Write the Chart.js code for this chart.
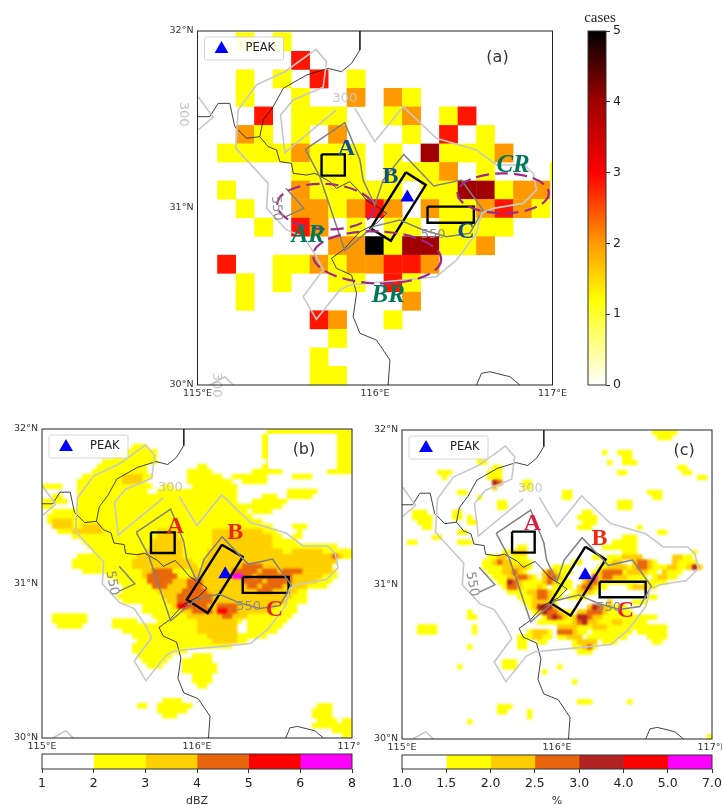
<!DOCTYPE html>
<html>
<head>
<meta charset="utf-8">
<script src="https://cdn.jsdelivr.net/npm/chart.js@4"></script>
<style>
  body { margin: 0; background: #fff; width: 722px; height: 805px; overflow: hidden; position: relative; }
  canvas { position: absolute; }
</style>
</head>
<body>
<canvas id="panelA" width="420" height="380" style="left:150px;top:20px"></canvas>
<canvas id="barA" width="60" height="390" style="left:580px;top:5px"></canvas>
<canvas id="panelB" width="360" height="333" style="left:0;top:420px"></canvas>
<canvas id="barB" width="360" height="60" style="left:0;top:748px"></canvas>
<canvas id="panelC" width="361" height="334" style="left:361px;top:420px"></canvas>
<canvas id="barC" width="361" height="60" style="left:361px;top:748px"></canvas>
<script>
// (a) cases per coarse grid box, one string per row from the north, '.' = none
const caseRows = [
  '.1.1...............',
  '....3..............',
  '.1.1.3.1...........',
  '.1..1..2.21........',
  '..3.111..12.13.....',
  '.21.1.2...1.3.1....',
  '11112111.1.41112...',
  '....1111.1112.1...1',
  '1...211111.1144122.',
  '.1..221232.2112321.',
  '..1.32.1.11.1111...',
  '......225144112....',
  '3..112122332.......',
  '.1.1..11.31........',
  '.1........2........',
  '.....32..1.........',
  '......1............',
  '.....1.............',
  '.....11............'
];
const caseColors = { 1: '#ffff00', 2: '#ff9900', 3: '#ff1500', 4: '#a00000', 5: '#000000' };

// (b) radar frequency, column runs per row from the north on a 62x62 grid
const dbzYellow = ['45-61', '44-45 59-61', '44-45 59-61', '18-20 44-45 59-61', '16-22 44-45 59-61', '14-22 44-45 59-61', '12-22 45 59-61', '11-20 31-32 44-45 59-61',
  '10-20 29-33 42-47 57-61', '8-21 29-35 38-44 50-53', '7-20 29-37 40-44', '0-3 7-21 24-25 30-38', '7-20 23-38 49-54', '2-3 7-20 21-38 44-46 49-53', '0-4 7-38 42-48', '0-1 7-40 41-47',
  '2-6 7-40 42-45', '1-41', '1-43', '2-45 50-52', '3-46 51', '6-47 50-51', '8-50', '9-58', '10-61', '7-61', '6-58', '6-57', '8-58', '13-58', '15-57', '16-56', '16-52', '15-52', '16-52',
  '20-50', '20-50', '2-8 22-49', '2-8 14-18 23-39 41-48', '3-7 14-38 41-47', '16-38 41-46', '18-39 40-44', '19-40', '18-37', '18-28', '19-25 30-33', '20-24 28-33', '21-23 28-34', '28-34',
  '30-33', '30-33', '31-32', '', '', '24-27', '19-20 23-29 55-57', '23-28 54-57', '24-26 54-57', '55-58 60-61', '54-57 58-61', '58-61', '60-61'];
const dbzGold = ['', '', '', '', '', '', '', '', '', '16-19', '16-19', '', '', '', '', '', '', '', '2-5', '2-5 8-11', '6-11 23-26 34-43', '23-26 34-45', '22-27 34-45', '22-27 34-45',
  '21-27 33-47 50-55', '19-27 33-59', '18-29 32-58', '18-30 32-57', '20-25 30-57', '20-26 30-55', '21-54', '22-52', '23-50', '24-49', '25-48', '26-46', '28-44', '29-40', '31-38', '31-38', '31-38', '33-38', '34-38'];
const dbzOrange = ['', '', '', '', '', '', '', '', '', '', '', '', '', '', '', '', '', '', '', '', '', '', '', '', '', '58', '', '40-43', '22-25 38-42 44-46 48-49 50-51', '21-26 38-41 43-49', '21-25 29-31 40-43 45-49',
  '22-24 29-31 41-42 44-47', '28-32 43-45', '27-33', '27-33', '28-32 35-38', '30-33 35-38', '36-37'];
const dbzRed = { 35: '27-28', 36: '35-36' };
const dbzMagenta = { 29: '38-39' };

// (c) occurrence percentage, same grid
const pctYellow = ['50-54', '51-53', '', '', '40 43-45', '15 44-45', '15-16 41 44-46', '18-19 55-56', '7-9 17-19 43-44 56-57', '8 17-19 59-60', '18-19 24-25', '24-25', '11-12 32-33 49-51',
  '15 32-33 50-51', '19-20 43-45', '19-20 43-45', '2-4 10-11 36-37', '2-5 10-11 13 35-38', '3-5 13-14 36-38', '4-5 35-37 47', '11-12 51-52', '6-7 44-46', '1-2 11-13 42-46', '23-24 40-46',
  '20-23 44-46 58', '17-18 22-24 38-39 41-47 56-57', '16-20 21-25 34-35 40-42 46-50 55-58', '16-25 30-33 39-42 44-52 54-56 57-59', '17-24 29-33 38-50 52-55', '18-26 28-32 36-48 50-54',
  '19-27 29-33 36-46 48-52', '20-28 30-33 36-40 45-50', '21-31 34-38', '23-31 33-36 49-50', '24-30 46-48', '25-30 38-44', '13 26-33 35-45', '13-14 28-35 37-50', '27-36 38-48',
  '3-6 14 31-40 41-47 48-52', '3-6 14 25-29 31-36 38-45 47-52', '23-24 25-29 31-35 37-44 49-52', '23-24 27-28 34-38 40-42 50-51', '13 23-24 34-38', '35-37', '', '20-22', '11 20-22 31', '28', '',
  '34', '', '', '', '35-37 45', '19-21', '19-20 25', '25', '13', '', '', '61'];
const pctGold = { 10: '18-19', 11: '18', 24: '22-24', 25: '19-20 44-47 54-55', 26: '18-21 42-43 46-49 54', 27: '20-24 41-44 46-49 53-54 57-59', 28: '20-23 28-30 39-43 45-48 52', 29: '21-25 28-31 38-44 51-52',
  30: '21-23 28-30 36-39', 31: '21-23 27 35-38 46-48', 32: '25-29 35-37', 33: '26-29', 34: '26-29 41', 35: '26-30 37-41', 36: '27-31 35-40', 37: '29-32 34-39', 38: '34-38 42-43', 39: '31-34 38-40',
  40: '26-28 31-34', 41: '26-27 33-35', 42: '35-38', 43: '36-37' };
const pctOrange = { 10: '18-19', 26: '19 47-48', 27: '47-48 58', 28: '22 29 40-43', 29: '23-24 29-30 40-41', 30: '21-22 29 37-38', 31: '21-22 36-37', 32: '27-28', 33: '27-28', 35: '27-29 38-39', 36: '28-30 37-39', 37: '29-31 35-37', 38: '35-36', 40: '31-33', 43: '37' };
const pctDark = { 10: '18', 27: '58', 30: '21', 35: '27-29 38', 36: '28', 37: '30 35-36', 38: '36' };
const pctMagenta = { 29: '38' };

const lonTicks = ['115°E', '116°E', '117°E'];
const latTicks = ['30°N', '31°N', '32°N'];
const dbzTicks = ['1', '2', '3', '4', '5', '6', '8'];
const dbzColors = ['#ffffff', '#ffff00', '#ffd000', '#e8650c', '#ff0000', '#ff00ff'];
const pctTicks = ['1.0', '1.5', '2.0', '2.5', '3.0', '4.0', '5.0', '7.0'];
const pctColors = ['#ffffff', '#ffff00', '#ffcc00', '#e8650c', '#b22222', '#ff0000', '#ff00ff'];
const caseTicks = [0, 1, 2, 3, 4, 5];
const caseStops = [[0, '#ffffff'], [1, '#ffff30'], [1.2, '#ffff00'], [2, '#ff9a00'], [3, '#ff0000'], [4, '#a00000'], [5, '#000000']];

// terrain contours and boundaries, lon/lat
const ctr300Main = [[115.886, 31.563], [115.999, 31.375], [116.159, 31.573], [116.346, 31.394], [116.572, 31.328], [116.685, 31.243], [116.844, 31.243], [116.891, 31.196], [116.91, 31.102], [116.835, 31.026],
  [116.666, 30.998], [116.6, 30.97], [116.572, 30.857], [116.459, 30.706], [116.346, 30.612], [116.159, 30.593], [115.858, 30.565], [115.802, 30.537], [115.67, 30.371], [115.595, 30.499], [115.708, 30.65],
  [115.67, 30.725], [115.595, 30.838], [115.501, 30.876], [115.389, 30.998], [115.398, 31.139], [115.216, 31.337], [115.229, 31.554], [115.332, 31.695], [115.492, 31.77], [115.667, 31.896], [115.727, 31.827],
  [115.708, 31.682], [115.539, 31.61], [115.468, 31.525], [115.492, 31.313], [115.577, 31.384], [115.783, 31.554]];
const ctr300Left = [[115.004, 31.629], [115.088, 31.512], [115.004, 31.441]];
const ctr300Bottom = [[115.069, 30], [115.154, 30.047], [115.201, 30]];
const ctr550Main = [[115.608, 31.331], [115.83, 31.482], [115.915, 31.271], [115.933, 31.158], [115.999, 31.017], [116.046, 31.158], [116.162, 31.303], [116.331, 31.124], [116.487, 31.158], [116.609, 30.989],
  [116.534, 30.857], [116.403, 30.838], [116.271, 30.876], [116.14, 30.932], [115.99, 30.895], [115.83, 30.759], [115.689, 31.177], [115.608, 31.331]];
const ctr550Small = [[115.498, 31.111], [115.599, 30.998], [115.498, 30.951]];
const border1 = [[115.915, 32], [115.915, 31.893], [115.868, 31.817], [115.811, 31.77], [115.736, 31.789], [115.614, 31.751], [115.483, 31.676], [115.426, 31.572], [115.37, 31.497], [115.351, 31.403], [115.398, 31.347],
  [115.445, 31.328], [115.464, 31.262], [115.53, 31.252], [115.539, 31.196], [115.614, 31.186], [115.661, 31.196], [115.746, 31.149], [115.783, 31.111], [115.858, 31.149], [115.896, 31.111], [115.952, 31.045],
  [116.027, 30.998], [116.065, 30.97], [116.008, 30.913], [115.915, 30.866], [115.821, 30.763], [115.755, 30.716], [115.783, 30.659], [115.868, 30.621], [115.896, 30.518], [115.877, 30.386], [115.915, 30.292],
  [116.008, 30.254], [116.084, 30.141], [116.074, 30]];
const border2 = [[115, 31.516], [115.069, 31.516], [115.116, 31.591], [115.182, 31.591], [115.21, 31.46], [115.276, 31.394], [115.351, 31.403]];
const border3 = [[116.572, 30], [116.6, 30.066], [116.647, 30.075], [116.76, 30.047], [116.816, 30]];
const peak = [[116.182, 31.06]];

// analysis boxes per panel
const boxesA = [[[115.699, 31.303], [115.83, 31.303], [115.83, 31.183], [115.699, 31.183], [115.699, 31.303]],
  [[116.174, 31.202], [116.286, 31.13], [116.089, 30.815], [115.975, 30.885], [116.174, 31.202]],
  [[116.296, 31.008], [116.557, 31.008], [116.557, 30.917], [116.296, 30.917], [116.296, 31.008]]];
const boxesB = [[[115.703, 31.331], [115.856, 31.331], [115.856, 31.197], [115.703, 31.197], [115.703, 31.331]],
  [[116.161, 31.251], [116.295, 31.172], [116.069, 30.809], [115.935, 30.895], [116.161, 31.251]],
  [[116.295, 31.042], [116.591, 31.042], [116.591, 30.939], [116.295, 30.939], [116.295, 31.042]]];
const boxesC = [[[115.71, 31.342], [115.856, 31.342], [115.856, 31.206], [115.71, 31.206], [115.71, 31.342]],
  [[116.183, 31.245], [116.314, 31.163], [116.088, 30.798], [115.957, 30.882], [116.183, 31.245]],
  [[116.275, 31.018], [116.572, 31.018], [116.572, 30.917], [116.275, 30.917], [116.275, 31.018]]];

const serif = '"Liberation Serif"';
const sans = '"DejaVu Sans"';
const regionFont = 'bold 24px ' + serif;
const regionItalic = 'italic bold 25px ' + serif;
const lightGrey = '#c8c8c8';
const darkGrey = '#808080';

// expand "3-5 9" run strings into cells
function runCells(rows, color) {
  const cells = [];
  Object.keys(rows).forEach(r => {
    rows[r].split(' ').filter(Boolean).forEach(run => {
      const parts = run.split('-').map(Number);
      const end = parts.length > 1 ? parts[1] : parts[0];
      for (let c = parts[0]; c <= end; c++) cells.push({ c, r: Number(r), color });
    });
  });
  return cells;
}

function line(points, color, width) {
  return {
    data: points.map(p => ({ x: p[0], y: p[1] })),
    showLine: true, borderColor: color, borderWidth: width,
    pointRadius: 0, fill: false, tension: 0, borderJoinStyle: 'miter'
  };
}

// cells go to a scratch canvas first so the fine grids can be softened like the radar fields
const cellPlugin = {
  id: 'cells',
  beforeDatasetsDraw(chart, args, opts) {
    const { ctx, chartArea: area, scales: { x, y } } = chart;
    const scratch = document.createElement('canvas');
    scratch.width = chart.width;
    scratch.height = chart.height;
    const sctx = scratch.getContext('2d');
    opts.cells.forEach(cell => {
      const lon0 = opts.lon0 + cell.c * opts.dLon;
      const lat0 = opts.lat0 - cell.r * opts.dLat;
      const x0 = x.getPixelForValue(lon0);
      const x1 = x.getPixelForValue(lon0 + opts.dLon);
      const y0 = y.getPixelForValue(lat0);
      const y1 = y.getPixelForValue(lat0 - opts.dLat);
      sctx.fillStyle = cell.color;
      sctx.fillRect(x0, y0, x1 - x0 + 0.3, y1 - y0 + 0.3);
    });
    ctx.save();
    ctx.beginPath();
    ctx.rect(area.left, area.top, area.right - area.left, area.bottom - area.top);
    ctx.clip();
    if (opts.soften) ctx.filter = 'blur(' + opts.soften + 'px)';
    ctx.drawImage(scratch, 0, 0);
    ctx.restore();
  }
};

const notePlugin = {
  id: 'notes',
  afterDatasetsDraw(chart, args, opts) {
    const { ctx, chartArea: area, scales: { x, y } } = chart;
    ctx.save();
    if (opts.ellipses) {
      opts.ellipses.forEach(e => {
        const rx = x.getPixelForValue(e[0] + e[2]) - x.getPixelForValue(e[0]);
        const ry = y.getPixelForValue(e[1] - e[3]) - y.getPixelForValue(e[1]);
        ctx.beginPath();
        ctx.ellipse(x.getPixelForValue(e[0]), y.getPixelForValue(e[1]), rx, ry, e[4] * Math.PI / 180, 0, Math.PI * 2);
        ctx.strokeStyle = '#9c2a8c';
        ctx.lineWidth = 2.2;
        ctx.setLineDash([13, 6]);
        ctx.stroke();
      });
      ctx.setLineDash([]);
    }
    if (opts.blank) {
      ctx.fillStyle = '#fff';
      ctx.fillRect(area.right - opts.blank[0], area.top + opts.blank[1], opts.blank[2], opts.blank[3]);
    }
    opts.texts.forEach(t => {
      ctx.save();
      ctx.translate(x.getPixelForValue(t.lon), y.getPixelForValue(t.lat));
      if (t.rot) ctx.rotate(t.rot * Math.PI / 180);
      ctx.font = t.font;
      ctx.fillStyle = t.color;
      ctx.textAlign = 'center';
      ctx.textBaseline = 'middle';
      ctx.fillText(t.text, 0, 0);
      ctx.restore();
    });
    // legend
    const lx = area.left + 7, ly = area.top + 6;
    ctx.beginPath();
    ctx.roundRect(lx, ly, 79, 23, 2);
    ctx.fillStyle = 'rgba(255,255,255,0.9)';
    ctx.fill();
    ctx.strokeStyle = '#d4d4d4';
    ctx.lineWidth = 1;
    ctx.stroke();
    Chart.helpers.drawPoint(ctx, { pointStyle: 'triangle', radius: 8, rotation: 0, borderWidth: 0 }, lx + 17, ly + 12);
    ctx.fillStyle = '#0000ff';
    ctx.fill();
    ctx.fillStyle = '#222';
    ctx.font = '11.5px ' + sans;
    ctx.textAlign = 'left';
    ctx.textBaseline = 'middle';
    ctx.fillText('PEAK', lx + 41, ly + 11.5);
    // frame
    ctx.strokeStyle = '#222';
    ctx.lineWidth = 1;
    ctx.strokeRect(area.left, area.top, area.right - area.left, area.bottom - area.top);
    ctx.restore();
  }
};

function mapChart(id, geom, cellOpts, boxes, notes) {
  return new Chart(document.getElementById(id), {
    type: 'scatter',
    data: {
      datasets: [
        line(ctr300Main, lightGrey, 1.6), line(ctr300Left, lightGrey, 1.6), line(ctr300Bottom, lightGrey, 1.6),
        line(ctr550Main, darkGrey, 1.5), line(ctr550Small, darkGrey, 1.5),
        line(border1, '#111', 0.8), line(border2, '#111', 0.8), line(border3, '#111', 0.8),
        ...boxes.map(b => line(b, '#000', 2.4)),
        { data: peak.map(p => ({ x: p[0], y: p[1] })), pointStyle: 'triangle', pointRadius: 8, pointBackgroundColor: '#0000ff', pointBorderWidth: 0 }
      ]
    },
    options: {
      responsive: false,
      animation: false,
      layout: { autoPadding: false, padding: geom.padding },
      scales: {
        x: {
          type: 'linear', min: 115, max: 117,
          grid: { display: false, drawTicks: false }, border: { display: false },
          afterFit: s => { s.height = 15; s.paddingLeft = 0; s.paddingRight = 0; },
          ticks: { stepSize: 1, padding: 3, maxRotation: 0, color: '#333', font: { family: 'DejaVu Sans', size: 9.5 }, callback: v => lonTicks[v - 115] }
        },
        y: {
          type: 'linear', min: 30, max: 32,
          grid: { display: false, drawTicks: false }, border: { display: false },
          afterFit: s => { s.width = geom.axisWidth; s.paddingTop = 0; s.paddingBottom = 0; },
          ticks: { stepSize: 1, padding: 4, color: '#333', font: { family: 'DejaVu Sans', size: 9.5 }, callback: v => latTicks[v - 30] }
        }
      },
      plugins: { legend: { display: false }, tooltip: { enabled: false }, cells: cellOpts, notes }
    },
    plugins: [cellPlugin, notePlugin]
  });
}

function text(text, lon, lat, font, color, rot) {
  return { text, lon, lat, font, color, rot };
}

// panel (a)
const aCells = [];
caseRows.forEach((row, r) => {
  row.split('').forEach((v, c) => {
    if (v !== '.') aCells.push({ c, r, color: caseColors[v] });
  });
});
const blue = '#0f4a96', green = '#00795a', contourText = '#c4c4c4', contourDark = '#8c8c8c';
mapChart('panelA', { axisWidth: 47.5, padding: { top: 11, right: 17.5, left: 0, bottom: 0 } },
  { cells: aCells, lon0: 115.111, lat0: 31.992, dLon: 0.1042, dLat: 0.1047, soften: 0.4 }, boxesA, {
    ellipses: [[115.721, 31.008, 0.272, 0.128, 3], [116.012, 30.721, 0.361, 0.147, 2], [116.722, 31.083, 0.257, 0.113, 0]],
    texts: [
      text('A', 115.839, 31.333, regionFont, blue), text('B', 116.087, 31.177, regionFont, blue), text('C', 116.512, 30.863, regionFont, blue),
      text('AR', 115.623, 30.847, regionItalic, green), text('BR', 116.074, 30.503, regionItalic, green), text('CR', 116.778, 31.239, regionItalic, green),
      text('300', 115.83, 31.62, '13px ' + sans, contourText), text('300', 114.923, 31.53, '13px ' + sans, contourText, 90),
      text('300', 115.107, 30.0, '13px ' + sans, contourText, 90), text('550', 115.445, 30.998, '13px ' + sans, contourDark, 85), text('550', 116.328, 30.847, '13px ' + sans, contourDark),
      text('(a)', 116.69, 31.85, '16px ' + sans, '#333')
    ]
  });

// panel (b)
const gridB = { lon0: 115, lat0: 32, dLon: 2 / 62, dLat: 2 / 62, soften: 1 };
const gridC = { lon0: 115, lat0: 32, dLon: 2 / 62, dLat: 2 / 62, soften: 0.8 };
mapChart('panelB', { axisWidth: 42, padding: { top: 9, right: 8, left: 0, bottom: 0 } },
  Object.assign({ cells: [...runCells(dbzYellow, dbzColors[1]), ...runCells(dbzGold, dbzColors[2]), ...runCells(dbzOrange, dbzColors[3]), ...runCells(dbzRed, dbzColors[4]), ...runCells(dbzMagenta, dbzColors[5])] }, gridB), boxesB, {
    blank: [84, 5, 67, 35],
    texts: [
      text('A', 115.86, 31.366, regionFont, '#e8281a'), text('B', 116.247, 31.331, regionFont, '#e8281a'), text('C', 116.499, 30.831, regionFont, '#e8281a'),
      text('300', 115.828, 31.618, '13px ' + sans, contourText), text('550', 115.452, 31.003, '13px ' + sans, contourDark, 80), text('550', 116.333, 30.852, '13px ' + sans, contourDark),
      text('(b)', 116.69, 31.865, '16px ' + sans, '#333')
    ]
  });

// panel (c)
mapChart('panelC', { axisWidth: 41, padding: { top: 10, right: 10, left: 0, bottom: 0 } },
  Object.assign({ cells: [...runCells(pctYellow, pctColors[1]), ...runCells(pctGold, pctColors[2]), ...runCells(pctOrange, pctColors[3]), ...runCells(pctDark, pctColors[4]), ...runCells(pctMagenta, pctColors[6])] }, gridC), boxesC, {
    texts: [
      text('A', 115.841, 31.396, regionFont, '#d8203c'), text('B', 116.275, 31.299, regionFont, '#ee2a12'), text('C', 116.441, 30.831, regionFont, '#e8203c'),
      text('300', 115.828, 31.618, '13px ' + sans, contourText), text('550', 115.452, 31.003, '13px ' + sans, contourDark, 80), text('550', 116.333, 30.852, '13px ' + sans, contourDark),
      text('(c)', 116.82, 31.865, '16px ' + sans, '#333')
    ]
  });

const framePlugin = {
  id: 'frame',
  afterDraw(chart) {
    const { ctx, chartArea: a } = chart;
    ctx.save();
    ctx.strokeStyle = '#333';
    ctx.lineWidth = 1;
    ctx.strokeRect(a.left, a.top, a.right - a.left, a.bottom - a.top);
    ctx.restore();
  }
};

// horizontal colour bars, one floating bar per class
function classBar(id, ticks, colors, label, padding) {
  return new Chart(document.getElementById(id), {
    type: 'bar',
    data: {
      labels: [''],
      datasets: colors.map((c, i) => ({ data: [[i, i + 1]], backgroundColor: c, barPercentage: 1, categoryPercentage: 1, grouped: false }))
    },
    options: {
      indexAxis: 'y',
      responsive: false,
      animation: false,
      layout: { autoPadding: false, padding },
      scales: {
        x: {
          type: 'linear', min: 0, max: colors.length,
          grid: { drawOnChartArea: false, tickLength: 4, color: '#333' }, border: { display: false },
          afterFit: s => { s.height = 39; s.paddingLeft = 0; s.paddingRight = 0; },
          title: { display: true, text: label, color: '#333', padding: 0, font: { family: 'DejaVu Sans', size: 11 } },
          ticks: { stepSize: 1, padding: 3, maxRotation: 0, color: '#222', font: { family: 'DejaVu Sans', size: 12.5 }, callback: v => ticks[v] }
        },
        y: { display: false }
      },
      plugins: { legend: { display: false }, tooltip: { enabled: false } }
    },
    plugins: [framePlugin]
  });
}
classBar('barB', dbzTicks, dbzColors, 'dBZ', { left: 42, right: 8, top: 6, bottom: 0 });
classBar('barC', pctTicks, pctColors, '%', { left: 41, right: 10, top: 7, bottom: 0 });

// vertical colour bar for panel (a)
new Chart(document.getElementById('barA'), {
  type: 'bar',
  data: {
    labels: [''],
    datasets: [{
      data: [[0, 5]],
      barPercentage: 1,
      categoryPercentage: 1,
      backgroundColor(context) {
        const { ctx, chartArea } = context.chart;
        if (!chartArea) return '#000';
        const g = ctx.createLinearGradient(0, chartArea.bottom, 0, chartArea.top);
        caseStops.forEach(s => g.addColorStop(s[0] / 5, s[1]));
        return g;
      }
    }]
  },
  options: {
    responsive: false,
    animation: false,
    layout: { autoPadding: false, padding: { left: 8, right: 0, top: 26, bottom: 10 } },
    scales: {
      x: { display: false },
      y: {
        position: 'right', type: 'linear', min: 0, max: 5,
        grid: { drawOnChartArea: false, tickLength: 4, color: '#333' }, border: { display: false },
        afterFit: s => { s.width = 34; s.paddingTop = 0; s.paddingBottom = 0; },
        ticks: { stepSize: 1, padding: 3, color: '#222', font: { family: 'DejaVu Sans', size: 12.5 }, callback: v => caseTicks[v] }
      }
    },
    plugins: { legend: { display: false }, tooltip: { enabled: false } }
  },
  plugins: [framePlugin, {
    id: 'unit',
    afterDraw(chart) {
      const { ctx } = chart;
      ctx.save();
      ctx.font = '15px ' + serif;
      ctx.fillStyle = '#222';
      ctx.textAlign = 'center';
      ctx.textBaseline = 'middle';
      ctx.fillText('cases', 20, 13);
      ctx.restore();
    }
  }]
});
</script>
</body>
</html>
